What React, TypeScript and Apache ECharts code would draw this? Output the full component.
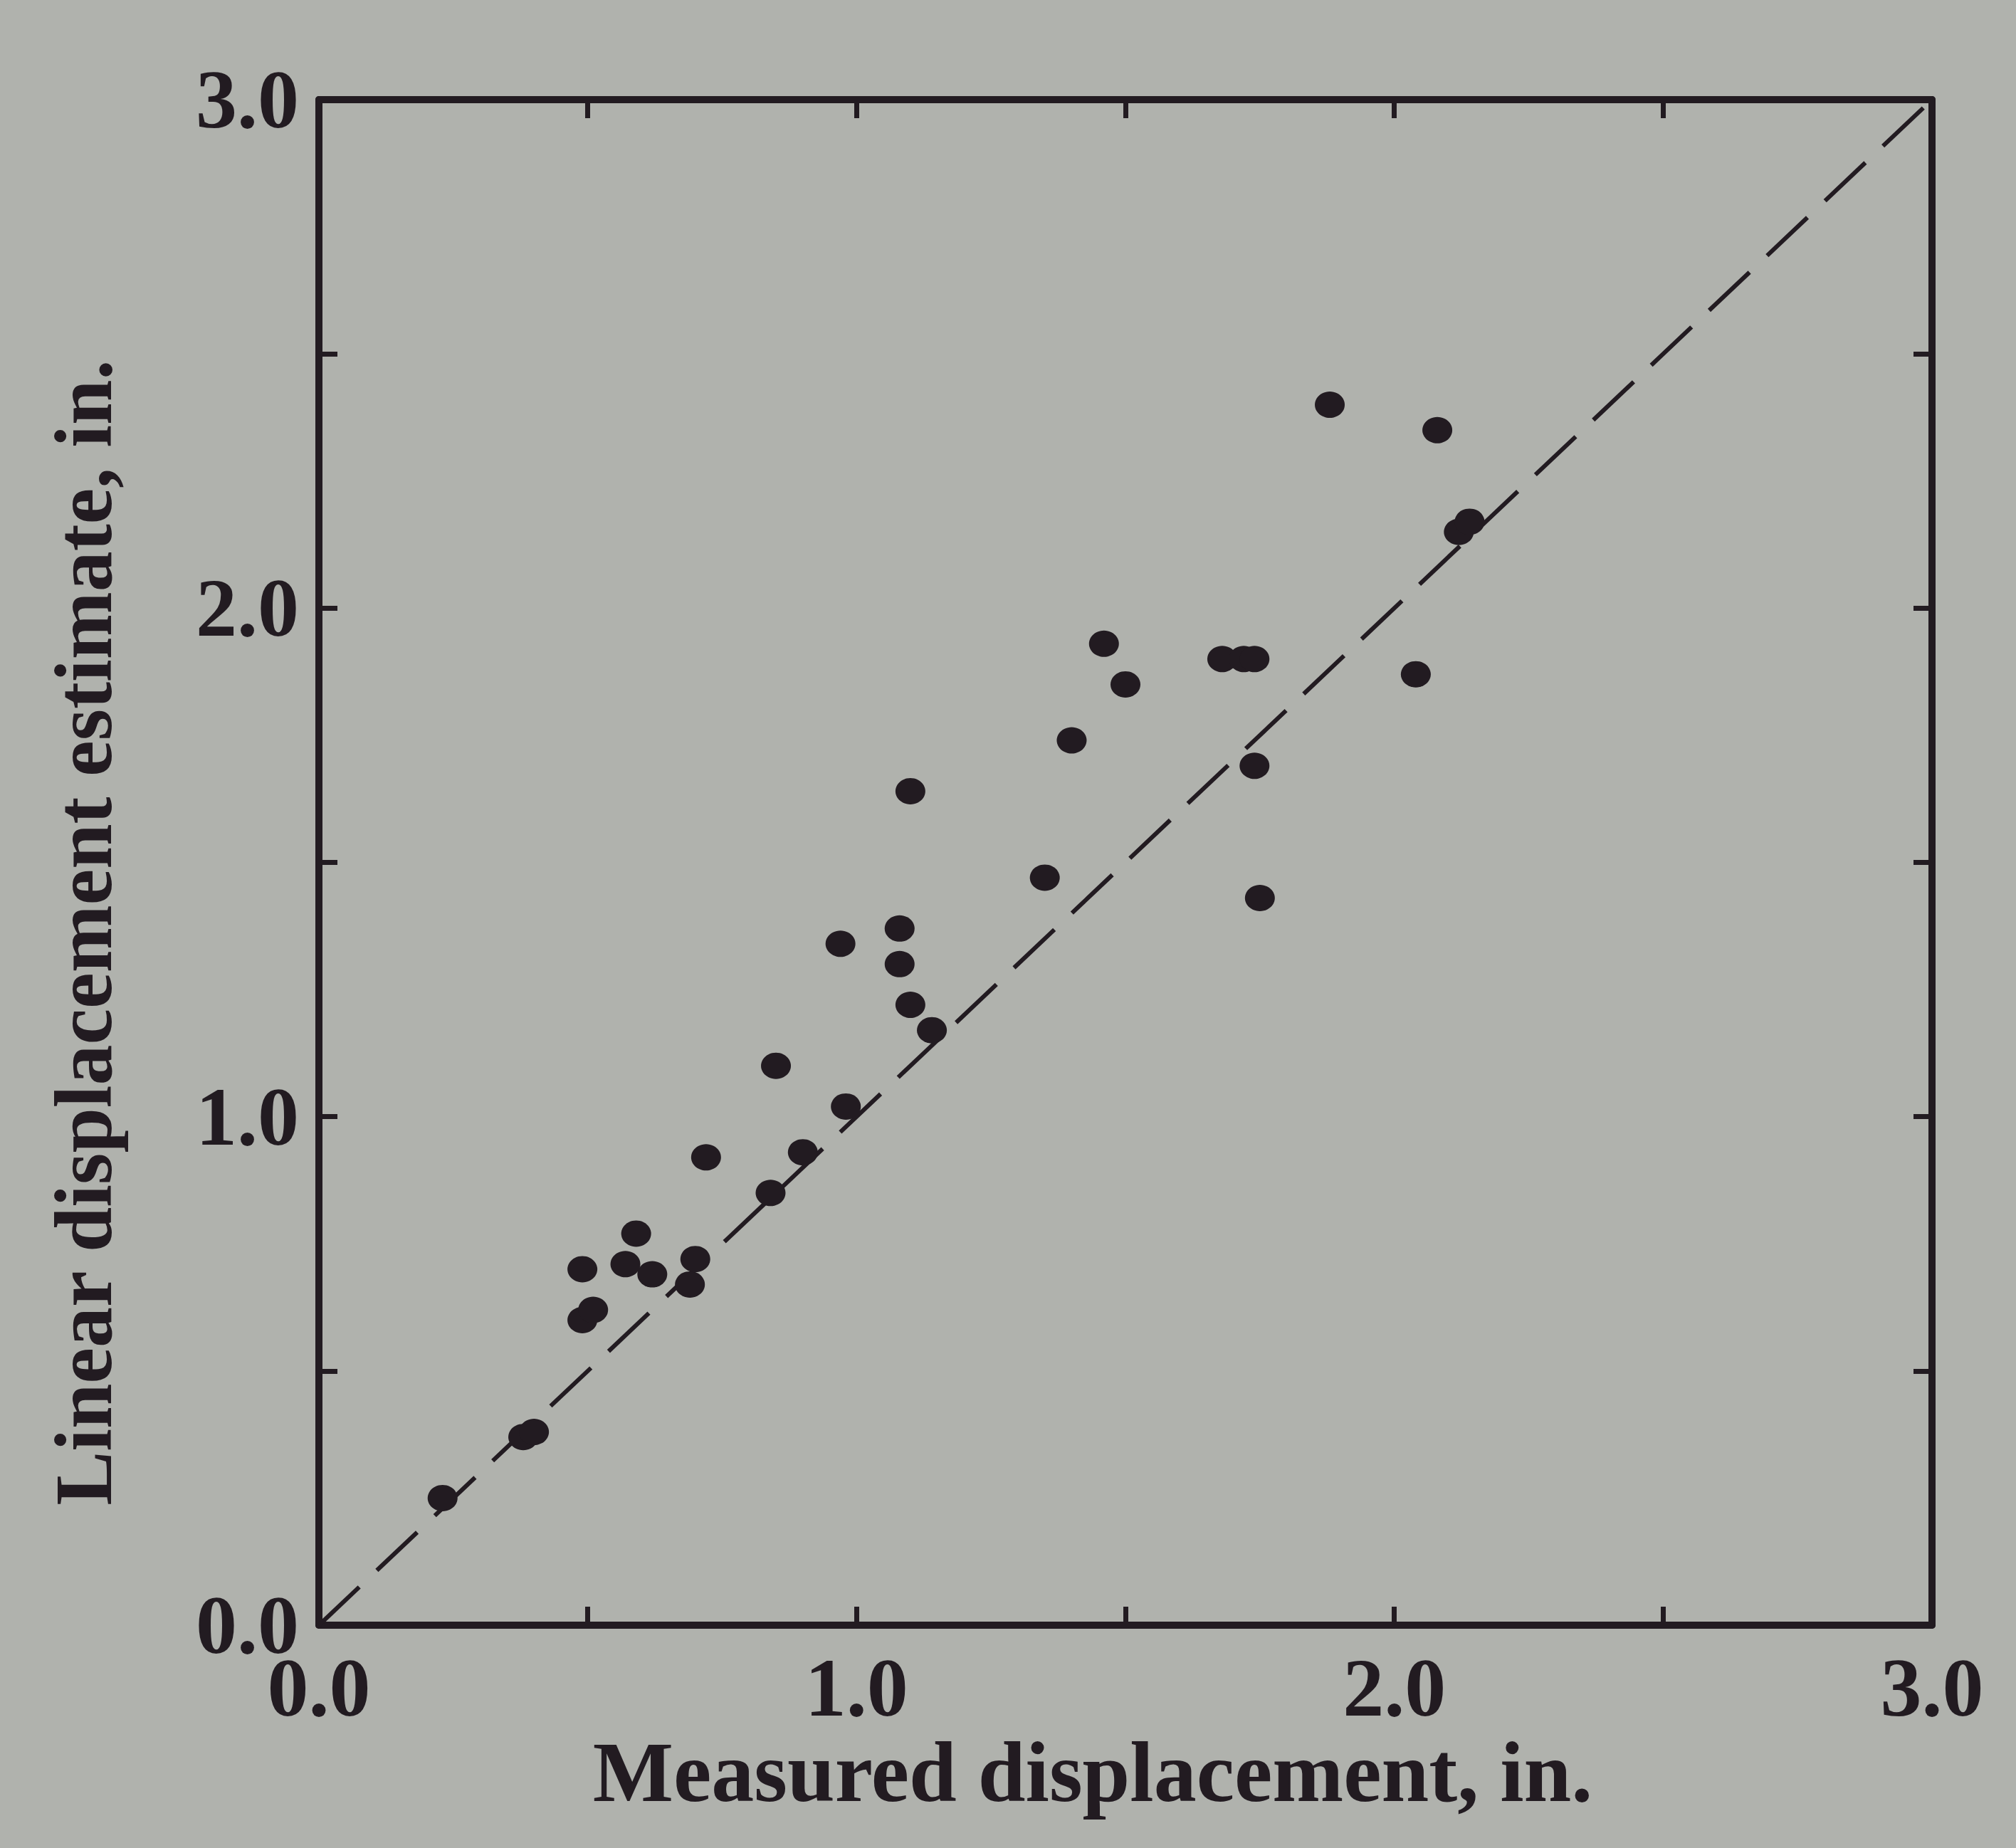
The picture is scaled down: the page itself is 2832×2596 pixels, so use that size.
import React, { useEffect, useRef } from "react";
import * as echarts from "echarts";

const measured = [0.23, 0.38, 0.40, 0.49, 0.49, 0.51, 0.59, 0.57, 0.62, 0.69, 0.70, 0.72, 0.84, 0.85, 0.90, 0.97, 0.98, 1.08, 1.08, 1.10, 1.10, 1.14, 1.35, 1.40, 1.46, 1.50, 1.68, 1.72, 1.74, 1.74, 1.75, 1.88, 2.04, 2.08, 2.12, 2.14];
const estimate = [0.25, 0.37, 0.38, 0.70, 0.60, 0.62, 0.77, 0.71, 0.69, 0.67, 0.72, 0.92, 0.85, 1.10, 0.93, 1.34, 1.02, 1.37, 1.30, 1.22, 1.64, 1.17, 1.47, 1.74, 1.93, 1.85, 1.90, 1.90, 1.90, 1.69, 1.43, 2.40, 1.87, 2.35, 2.15, 2.17];
const equalityLine = [[0, 0], [3, 3]];
const tickLabels = ["0.0", "1.0", "2.0", "3.0"];
const xTitle = "Measured displacement, in.";
const yTitle = "Linear displacement estimate, in.";

const INK = "#221b21";
const BG = "#b0b2ad";
const FONT = "'Liberation Serif', 'DejaVu Serif', serif";

export default function App() {
  const ref = useRef<HTMLDivElement>(null);
  useEffect(() => {
    document.body.style.margin = "0";
    document.body.style.background = BG;
    const chart = echarts.init(ref.current!, null, { renderer: "svg" });
    const fmt = (v: number) => {
      const i = tickLabels.indexOf(v.toFixed(1));
      return Number.isInteger(v) && i >= 0 ? tickLabels[i] : "";
    };
    const axisCommon = {
      type: "value" as const,
      min: 0,
      max: 3,
      interval: 0.5,
      splitLine: { show: false },
      axisLine: { show: true, onZero: false, lineStyle: { color: INK, width: 10 } },
      axisTick: { show: true, inside: true, length: 26, lineStyle: { color: INK, width: 7 } },
    };
    const labelStyle = { color: INK, fontFamily: FONT, fontWeight: "bold" as const, fontSize: 116 };
    chart.setOption({
      animation: false,
      backgroundColor: BG,
      grid: { left: 448, right: 118, top: 140, bottom: 313 },
      graphic: [
        {
          type: "text",
          x: 1535,
          y: 2489,
          style: { text: xTitle, align: "center", verticalAlign: "middle", fill: INK, font: `bold 120px ${FONT}` },
        },
        {
          type: "text",
          x: 117,
          y: 1310,
          rotation: Math.PI / 2,
          style: { text: yTitle, align: "center", verticalAlign: "middle", fill: INK, font: `bold 114px ${FONT}` },
        },
      ],
      xAxis: [
        { ...axisCommon, position: "bottom", axisLabel: { ...labelStyle, formatter: fmt, margin: 30 } },
        { ...axisCommon, position: "top", axisLabel: { show: false } },
      ],
      yAxis: [
        { ...axisCommon, position: "left", axisLabel: { ...labelStyle, formatter: fmt, margin: 28 } },
        { ...axisCommon, position: "right", axisLabel: { show: false } },
      ],
      series: [
        {
          type: "line",
          data: equalityLine,
          symbol: "none",
          silent: true,
          lineStyle: { color: INK, width: 6, type: [78, 34] },
          z: 1,
        },
        {
          type: "scatter",
          data: measured.map((x, i) => [x, estimate[i]]),
          symbol: "circle",
          symbolSize: [42, 37],
          itemStyle: { color: INK, opacity: 1 },
          z: 3,
        },
      ],
    });
    return () => chart.dispose();
  }, []);
  return <div ref={ref} style={{ width: 2832, height: 2596, background: BG }} />;
}
